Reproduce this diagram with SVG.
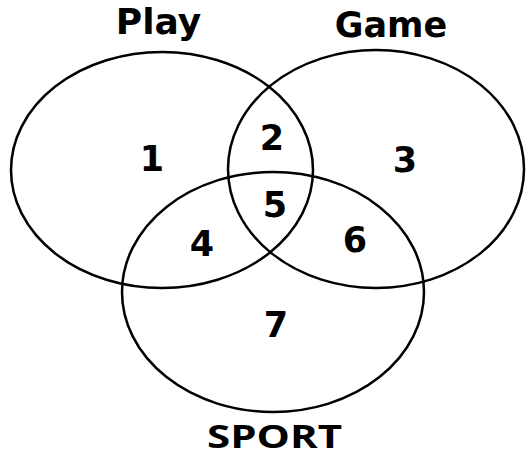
<svg xmlns="http://www.w3.org/2000/svg" width="529" height="457" viewBox="0 0 529 457">
<style>
.set{fill:none;stroke:#000;stroke-width:2.5}
.lbl{font-family:"DejaVu Sans",sans-serif;font-weight:bold;font-size:36px;text-anchor:middle;fill:#000}
.num{font-family:"DejaVu Sans",sans-serif;font-weight:bold;font-size:35px;text-anchor:middle;fill:#000}
.sp{font-family:"Open Sans",sans-serif;font-weight:bold;font-size:33px;text-anchor:middle;fill:#000}
</style>
<rect width="529" height="457" fill="#fff"/>
<g id="play">
<ellipse class="set" cx="162" cy="170" rx="151" ry="118"/>
<text class="lbl" x="158.5" y="34">Play</text>
</g>
<g id="game">
<ellipse class="set" cx="376" cy="169" rx="148" ry="119"/>
<text class="lbl" x="391" y="37" style="font-size:35px">Game</text>
</g>
<g id="sport">
<ellipse class="set" cx="273" cy="292" rx="151" ry="120"/>
<text class="sp" x="274.5" y="448" textLength="135" lengthAdjust="spacingAndGlyphs">SPORT</text>
</g>
<g id="regions">
<text class="num" x="152" y="171">1</text>
<text class="num" x="272" y="150">2</text>
<text class="num" x="405" y="172">3</text>
<text class="num" x="202" y="256">4</text>
<text class="num" x="275" y="217">5</text>
<text class="num" x="355" y="252">6</text>
<text class="num" x="276" y="337">7</text>
</g>
<g id="connectors"></g>
</svg>
